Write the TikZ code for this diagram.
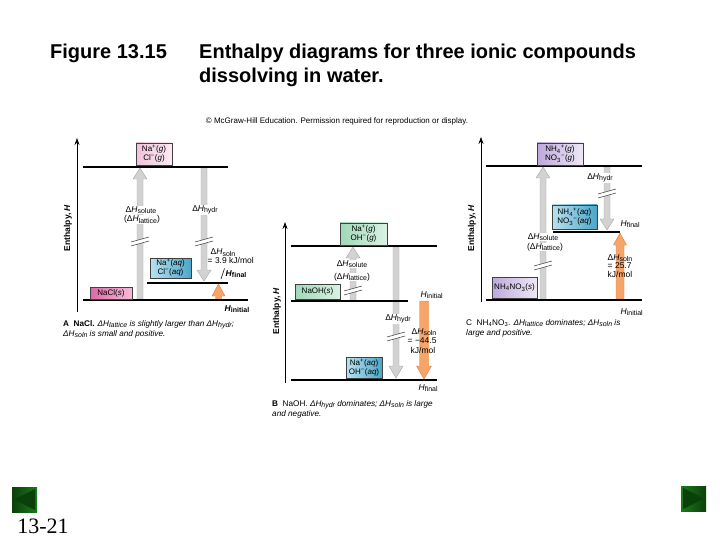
\documentclass[tikz,border=0pt]{standalone}
\usepackage{fontspec}
\setmainfont{Liberation Sans}
\newfontfamily\pagefont{Liberation Serif}
\usetikzlibrary{arrows.meta}

\newcommand\setfs[1]{\fontsize{#1}{#1}\selectfont}
\newcommand\setfsb[2]{\fontsize{#1}{#2}\selectfont}
\newcommand\mysub[1]{\raisebox{-0.35ex}{\fontsize{7}{7}\selectfont #1}}
\newcommand\dH[1]{Δ\textit{H}\mysub{#1}}
% block arrow: style, x, tail y, tip y, shaft half width, head half width, head length
\newcommand\barrow[7]{%
  \pgfmathsetmacro\bdir{(#4>#3)?1:-1}%
  \pgfmathsetmacro\bhb{#4-\bdir*#7}%
  \filldraw[#1] (#2-#5,#3) -- (#2-#5,\bhb) -- (#2-#6,\bhb) -- (#2,#4) -- (#2+#6,\bhb) -- (#2+#5,\bhb) -- (#2+#5,#3) -- cycle;}
% break marks: x, y
\newcommand\brk[2]{%
  \fill[white] (#1-9,#2+1) -- (#1+9,#2-4) -- (#1+9,#2) -- (#1-9,#2+5) -- cycle;
  \draw[brkline] (#1-9,#2+1) -- (#1+9,#2-4);
  \draw[brkline] (#1-9,#2+5) -- (#1+9,#2);}

\definecolor{pinkL}{HTML}{F0C2DA}\definecolor{pinkR}{HTML}{FBEAF3}
\definecolor{magL}{HTML}{DD68A6}\definecolor{magR}{HTML}{F4BCD8}
\definecolor{blueL}{HTML}{B8E2EF}\definecolor{blueR}{HTML}{4CA6C8}
\definecolor{greenL}{HTML}{9FD8B8}\definecolor{greenR}{HTML}{DAF2E4}
\definecolor{purL}{HTML}{BEA8DC}\definecolor{purR}{HTML}{EEE8F6}
\definecolor{grayA}{HTML}{D2D2D2}\definecolor{grayE}{HTML}{A8A8A8}
\definecolor{orA}{HTML}{F6A468}\definecolor{orE}{HTML}{E0803C}
\definecolor{btn}{HTML}{1B7A1B}\definecolor{btnD}{HTML}{0A400A}

\tikzset{
  level/.style={line width=2.6pt},
  axis/.style={line width=0.8pt,-{Stealth[length=7pt,width=5pt]}},
  box/.style={draw=black!75,line width=0.5pt,inner sep=0pt,align=center,font=\setfsb{8}{9}},
  graybar/.style={fill=grayA,draw=grayE,line width=0.4pt},
  orbar/.style={fill=orA,draw=orE,line width=0.4pt},
  brkline/.style={draw=black!70,line width=0.6pt},
  lbl/.style={font=\setfs{8.5},inner sep=0.5pt},
  wlbl/.style={lbl,fill=white},
  captxt/.style={font=\setfs{8.2},anchor=base west,inner sep=0pt},
  ylab/.style={font=\bfseries\setfs{8.5},rotate=90,inner sep=0pt},
  title/.style={font=\bfseries\setfs{20},anchor=base west,inner sep=0pt}
}

\begin{document}
\begin{tikzpicture}[x=1pt,y=-1pt]
\useasboundingbox[fill=white] (0,0) rectangle (720,540);

% ---------- Titles ----------
\node[title] (fig) at (50,59) {Figure 13.15};
\node[title] (t1) at (199,59) {Enthalpy diagrams for three ionic compounds};
\node[title] (t2) at (199,83) {dissolving in water.};
\node[font=\setfs{8},inner sep=0pt] (copy) at (337,121) {© McGraw-Hill Education. Permission required for reproduction or display.};

% ================= Panel A =================
\draw[axis] (77,312) -- (77,138);
\node[ylab] (yA) at (68,228) {Enthalpy, \textit{H}};
\barrow{graybar}{140}{299}{168}{3}{7}{11}
\barrow{graybar}{204}{168}{281}{3}{7}{11}
\barrow{orbar}{218.5}{299}{284}{3}{6.5}{12}
\brk{140}{241}
\brk{204}{241}
\draw[level] (83,167) -- (228,167);
\draw[level] (147,283) -- (228,283);
\draw[level] (83,300) -- (248,300);
\node[box,left color=pinkL,right color=pinkR,minimum width=36,minimum height=22] (Agas) at (154,154)
  {Na\textsuperscript{+}(\textit{g})\\Cl\textsuperscript{−}(\textit{g})};
\node[box,left color=magL,right color=magR,minimum width=42,minimum height=12] (Asol) at (111,293) {NaCl(\textit{s})};
\node[box,left color=blueL,right color=blueR,minimum width=41,minimum height=20] (Aaq) at (170.5,268)
  {Na\textsuperscript{+}(\textit{aq})\\Cl\textsuperscript{−}(\textit{aq})};
\node[wlbl] (Asolute) at (141,210) {\dH{solute}};
\node[wlbl] (Alatt) at (142,219.5) {(\dH{lattice})};
\node[wlbl] (Ahydr) at (205,210) {\dH{hydr}};
\node[lbl,anchor=west] (Asoln) at (210,252.5) {\dH{soln}};
\node[lbl,anchor=west] (Asoln2) at (207,260) {= 3.9 kJ/mol};
\draw[line width=0.6pt] (221,279) -- (224.5,268.5);
\node[lbl,anchor=west,font=\bfseries\setfs{8.5}] (AHf) at (225,274) {\textit{H}\mysub{final}};
\node[lbl,anchor=west,font=\bfseries\setfs{8.5}] (AHi) at (224,309) {\textit{H}\mysub{initial}};
\node[captxt] (capA1) at (63,326) {\textbf{A\ \ NaCl.} \textit{\dH{lattice} is slightly larger than \dH{hydr};}};
\node[captxt] (capA2) at (63,336) {\textit{\dH{soln} is small and positive.}};

% ================= Panel B =================
\draw[axis] (285,383) -- (285,222);
\node[ylab] (yB) at (277,311) {Enthalpy, \textit{H}};
\barrow{graybar}{353}{300}{247}{3}{7}{11}
\barrow{graybar}{396}{247}{378}{3}{7}{12}
\barrow{orbar}{424}{301}{379}{4.5}{7.5}{13}
\brk{353}{290}
\brk{396}{336}
\draw[level] (291,246) -- (437,246);
\draw[level] (291,301) -- (408,301);
\draw[level] (291,380) -- (437,380);
\node[box,left color=greenL,right color=greenR,minimum width=47,minimum height=22] (Bgas) at (363.5,234)
  {Na\textsuperscript{+}(\textit{g})\\OH\textsuperscript{−}(\textit{g})};
\node[box,left color=greenL,right color=greenR,minimum width=45,minimum height=15] (Bsol) at (317.5,291.5) {NaOH(\textit{s})};
\node[box,left color=blueL,right color=blueR,minimum width=36,minimum height=21] (Baq) at (364,367.5)
  {Na\textsuperscript{+}(\textit{aq})\\OH\textsuperscript{−}(\textit{aq})};
\node[wlbl] (Bsolute) at (352,264) {\dH{solute}};
\node[wlbl] (Blatt) at (352,277) {(\dH{lattice})};
\node[wlbl] (Bhydr) at (398,319) {\dH{hydr}};
\node[lbl,anchor=west] (Bsoln) at (411,332) {\dH{soln}};
\node[lbl,anchor=west] (Bsoln2) at (407,341) {= −44.5};
\node[lbl,anchor=west] (Bsoln3) at (410,350) {kJ/mol};
\node[lbl,anchor=west] (BHi) at (420,295) {\textit{H}\mysub{initial}};
\node[lbl,anchor=west] (BHf) at (418,388) {\textit{H}\mysub{final}};
\node[captxt] (capB1) at (272,406) {\textbf{B}\ \ NaOH. \textit{\dH{hydr} dominates; \dH{soln} is large}};
\node[captxt] (capB2) at (272,416) {\textit{and negative.}};

% ================= Panel C =================
\draw[axis] (481,302) -- (481,137);
\node[ylab] (yC) at (472,228) {Enthalpy, \textit{H}};
\barrow{graybar}{543}{299}{167}{3}{7}{11}
\barrow{graybar}{607}{167}{230}{3}{7}{11}
\barrow{orbar}{620}{299}{233}{4}{6.5}{12}
\brk{543}{265}
\brk{607}{193}
\draw[level] (486,166) -- (642,166);
\draw[level] (553,232) -- (620,232);
\draw[level] (486,300) -- (642,300);
\node[box,left color=purL,right color=purR,minimum width=46,minimum height=22] (Cgas) at (560,154)
  {NH\textsubscript{4}\textsuperscript{+}(\textit{g})\\NO\textsubscript{3}\textsuperscript{−}(\textit{g})};
\node[box,left color=blueL,right color=blueR,minimum width=45,minimum height=24] (Caq) at (574.5,217)
  {NH\textsubscript{4}\textsuperscript{+}(\textit{aq})\\NO\textsubscript{3}\textsuperscript{−}(\textit{aq})};
\node[box,left color=purL,right color=purR,minimum width=45,minimum height=21] (Csol) at (514.5,287.5) {NH\textsubscript{4}NO\textsubscript{3}(\textit{s})};
\node[wlbl] (Chydr) at (600,178) {\dH{hydr}};
\node[wlbl] (Csolute) at (543,237) {\dH{solute}};
\node[wlbl] (Clatt) at (545,247) {(\dH{lattice})};
\node[lbl,anchor=west] (Csoln) at (607,258) {\dH{soln}};
\node[lbl,anchor=west] (Csoln2) at (607,266) {= 25.7};
\node[lbl,anchor=west] (Csoln3) at (607,274) {kJ/mol};
\node[lbl,anchor=west] (CHf) at (620,224) {\textit{H}\mysub{final}};
\node[lbl,anchor=west] (CHi) at (620,312) {\textit{H}\mysub{initial}};
\node[captxt] (capC1) at (466,325) {C\ \ NH\textsubscript{4}NO\textsubscript{3}. \textit{\dH{lattice} dominates; \dH{soln} is}};
\node[captxt] (capC2) at (466,335) {\textit{large and positive.}};

% ---------- navigation ----------
\node[font=\pagefont\setfs{22},inner sep=0pt] (pg) at (43,526) {13-21};
\shade[left color=btnD,right color=btn] (12,487) rectangle (37,512);
\fill[btnD] (14,499.5) -- (35,489) -- (35,510) -- cycle;
\shade[left color=btn,right color=btnD] (681,486) rectangle (706,511);
\fill[btnD] (704,498.5) -- (683,488) -- (683,509) -- cycle;
\end{tikzpicture}
\end{document}
